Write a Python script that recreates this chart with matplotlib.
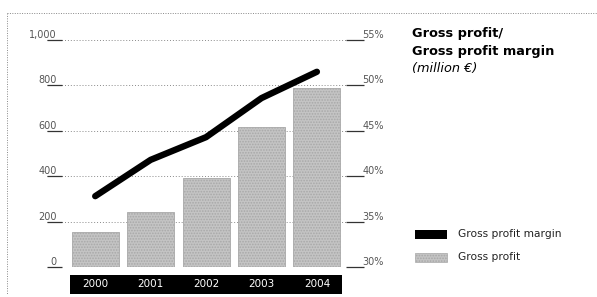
import matplotlib
matplotlib.use('Agg')
import matplotlib.pyplot as plt
import matplotlib.transforms as mtransforms
from matplotlib.patches import Rectangle
from matplotlib.lines import Line2D

years = ['2000', '2001', '2002', '2003', '2004']
gross_profit = [154, 242, 392, 617, 789]          # million EUR
profit_margin = [37.8, 41.8, 44.3, 48.6, 51.5]    # percent
left_ticks = [0, 200, 400, 600, 800, 1000]
left_labels = ['0', '200', '400', '600', '800', '1,000']
right_ticks = [30, 35, 40, 45, 50, 55]
right_labels = ['30%', '35%', '40%', '45%', '50%', '55%']

plt.rcParams['hatch.color'] = '#8f8f8f'
plt.rcParams['hatch.linewidth'] = 0.8

W, H = 597, 297
fig = plt.figure(figsize=(W / 100, H / 100), dpi=100)
fig.patch.set_facecolor('white')

# axes placed in pixel terms: x 47..364, y(top) 40..267
ax = fig.add_axes([47 / W, (H - 267) / H, (364 - 47) / W, (267 - 40) / H])
x = list(range(len(years)))
ax.set_xlim(-0.87, 4.85)
ax.set_ylim(0, 1000)

for t in left_ticks:
    ax.axhline(t, color='#8a8a8a', lw=0.7, ls=(0, (1, 2)), zorder=0)

ax.bar(x, gross_profit, width=0.85, color='#c4c4c4', edgecolor='#a8a8a8',
       linewidth=0.6, hatch='......', zorder=2)

ax.set_xticks([])
ax.set_yticks(left_ticks)
ax.set_yticklabels(left_labels)
ax.tick_params(axis='y', direction='in', length=11, width=0.9, color='#333333',
               pad=-7, labelsize=7, labelcolor='#555555')
for lbl in ax.get_yticklabels():
    lbl.set_verticalalignment('bottom')
for s in ax.spines.values():
    s.set_visible(False)

ax2 = ax.twinx()
ax2.set_ylim(30, 55)
ax2.plot(x, profit_margin, color='black', lw=4.6, solid_capstyle='round',
         solid_joinstyle='round', zorder=3)
ax2.set_yticks(right_ticks)
ax2.set_yticklabels(right_labels)
ax2.tick_params(axis='y', direction='in', length=13, width=0.9, color='#333333',
                pad=-1, labelsize=7, labelcolor='#555555')
for lbl in ax2.get_yticklabels():
    lbl.set_verticalalignment('bottom')
for s in ax2.spines.values():
    s.set_visible(False)

# black year band below the bars
trans = mtransforms.blended_transform_factory(ax.transData, ax.transAxes)
ax.add_patch(Rectangle((-0.45, -0.118), 4.9, 0.083, transform=trans,
                       facecolor='black', edgecolor='none', clip_on=False))
for i, yr in enumerate(years):
    ax.text(i, -0.077, yr, transform=trans, ha='center', va='center',
            color='white', fontsize=7.5, clip_on=False)

# title
fig.text(412 / W, 1 - 33 / H, 'Gross profit/', fontsize=9.3, fontweight='bold',
         va='center', ha='left')
fig.text(412 / W, 1 - 51 / H, 'Gross profit margin', fontsize=9.3,
         fontweight='bold', va='center', ha='left')
fig.text(412 / W, 1 - 69 / H, '(million \u20ac)', fontsize=9.3,
         style='italic', va='center', ha='left')

# legend
fig.patches.append(Rectangle((415 / W, 1 - 239 / H), 32 / W, 9 / H,
                             transform=fig.transFigure, facecolor='black',
                             edgecolor='none'))
fig.patches.append(Rectangle((415 / W, 1 - 262 / H), 32 / W, 9 / H,
                             transform=fig.transFigure, facecolor='#c4c4c4',
                             edgecolor='#a8a8a8', lw=0.5, hatch='......'))
fig.text(458 / W, 1 - 234 / H, 'Gross profit margin', fontsize=7.7,
         va='center', ha='left', color='#222222')
fig.text(458 / W, 1 - 257 / H, 'Gross profit', fontsize=7.7,
         va='center', ha='left', color='#222222')

# dotted frame
fig.lines.append(Line2D([7 / W, 1], [1 - 13 / H, 1 - 13 / H], transform=fig.transFigure,
                        color='#888888', lw=0.7, ls=(0, (1, 1.5))))
fig.lines.append(Line2D([7 / W, 7 / W], [1 - 13 / H, 1 - 294 / H], transform=fig.transFigure,
                        color='#888888', lw=0.7, ls=(0, (1, 1.5))))

fig.savefig('out.png', dpi=100)
